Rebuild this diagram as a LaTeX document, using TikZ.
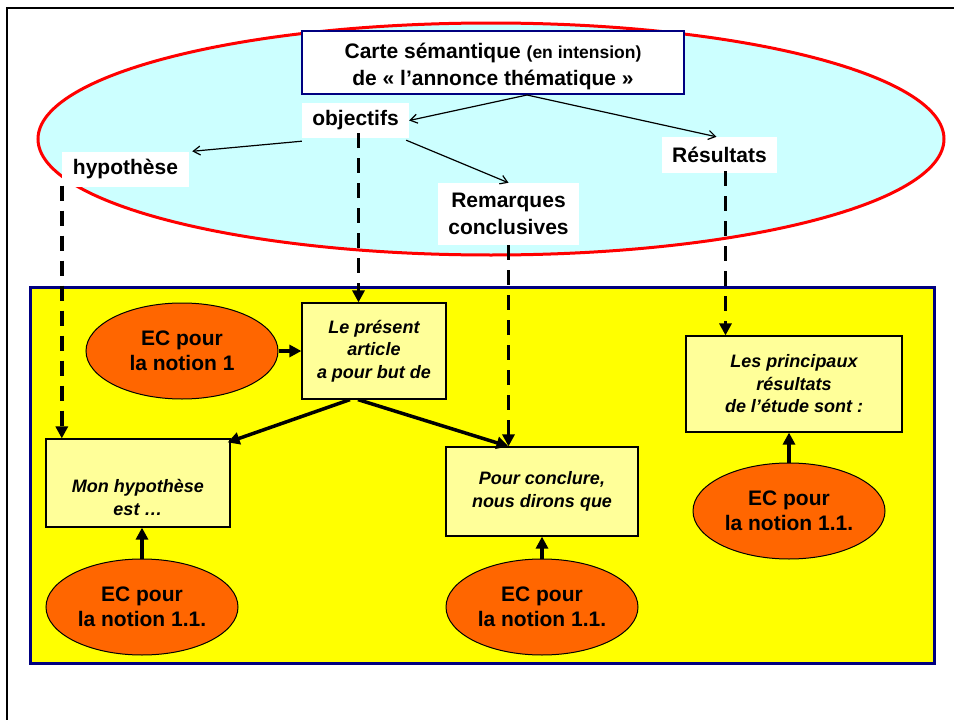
\documentclass[tikz,border=0pt]{standalone}
\usepackage{fontspec}
\setmainfont{Liberation Sans}
\usetikzlibrary{arrows.meta,shapes.geometric}
\definecolor{skyfill}{HTML}{CCFFFF}
\definecolor{navy}{HTML}{000080}
\definecolor{lemon}{HTML}{FFFF00}
\definecolor{cream}{HTML}{FFFF99}
\definecolor{ecorange}{HTML}{FF6600}

\begin{document}
\begin{tikzpicture}[x=1pt,y=-1pt,
  tag/.style={fill=white, inner sep=0, font=\fontsize{21}{27}\selectfont\bfseries, align=center},
  notebox/.style={draw=black, line width=1.2, fill=cream, inner sep=0,
    font=\fontsize{18}{22.5}\selectfont\bfseries\itshape, align=center},
  ecnode/.style={ellipse, draw=black, line width=1, fill=ecorange,
    minimum width=192, minimum height=96, inner sep=0,
    font=\fontsize{21}{25}\selectfont\bfseries, align=center},
  maplink/.style={line width=1.2, -{Straight Barb[length=7pt,width=9pt]}},
  heavy/.style={line width=3.5, -{Triangle[length=12pt,width=12pt]}},
  guide/.style={line width=3.5, dash pattern=on 15pt off 10pt, -{Triangle[length=12pt,width=12pt]}},
]
\useasboundingbox (0,0) rectangle (954,720);

% page frame
\draw[line width=2.5] (954,8) -- (7,8) -- (7,720);

% semantic map (upper part)
\draw[line width=3, draw=red, fill=skyfill] (491,139) ellipse [x radius=453, y radius=116];

\node[draw=navy, line width=2, fill=white, minimum width=382, minimum height=63, inner sep=0,
  font=\fontsize{21}{27}\selectfont\bfseries, align=center] (title) at (493,62.5)
  {\mbox{}\\[-4pt]Carte sémantique {\fontsize{17.5}{27}\selectfont(en intension)}\\de «~l’annonce thématique~»};

\node[tag, minimum width=107, minimum height=35] (obj) at (355.5,120.5) {objectifs};
\node[tag, minimum width=127, minimum height=35] (hyp) at (125.5,169) {hypothèse};
\node[tag, minimum width=141, minimum height=62] (rem) at (508.5,214) {Remarques\\conclusives};
\node[tag, minimum width=115, minimum height=36] (res) at (719.5,155) {Résultats};

\coordinate (fork) at ([xshift=34]title.south);
\draw[maplink] (fork) -- (obj.east);
\draw[maplink] (fork) -- ([xshift=-3]res.north);
\draw[maplink] ([yshift=-3]obj.south west) -- ([xshift=3]hyp.north east);
\draw[maplink] ([xshift=-3,yshift=-2]obj.south east) -- (rem.north);

% writing frame (lower part)
\draw[line width=3, draw=navy, fill=lemon] (30,287) rectangle (934,663);

\node[notebox, minimum width=144, minimum height=96] (pres) at (374,351)
  {Le présent\\article\\a pour but de};
\node[notebox, minimum width=184, minimum height=88] (monhyp) at (138,483)
  {\mbox{}\\[20pt]Mon hypothèse\\est …};
\node[notebox, minimum width=192, minimum height=89] (concl) at (542,491.5)
  {Pour conclure,\\nous dirons que};
\node[notebox, minimum width=216, minimum height=96] (lp) at (794,384)
  {Les principaux\\résultats\\de l’étude sont :};

\node[ecnode] (ec1) at (182,351) {EC pour\\la notion 1};
\node[ecnode] (ec2) at (142,607) {EC pour\\la notion 1.1.};
\node[ecnode] (ec3) at (542,607) {EC pour\\la notion 1.1.};
\node[ecnode] (ec4) at (789,511) {EC pour\\la notion 1.1.};

% dashed guides from the map to the writing frame
\draw[guide] ([yshift=1]hyp.south west) -- (hyp.south west |- monhyp.north);
\draw[guide] ([xshift=3,yshift=5]obj.south) -- ([xshift=3]obj.south |- pres.north);
\draw[guide] (rem.south) -- (rem.south |- concl.north);
\draw[guide] ([xshift=6,yshift=2]res.south) -- ([xshift=6]res.south |- lp.north);

% solid links inside the writing frame
\draw[heavy] (ec1.east) -- (pres.west);
\draw[heavy] ([xshift=-24]pres.south) -- ([shift={(-3,4)}]monhyp.north east);
\draw[heavy] ([xshift=-16]pres.south) -- (rem.south |- concl.north);
\draw[heavy] (ec2.north) -- (ec2.north |- monhyp.south);
\draw[heavy] (ec3.north) -- (concl.south);
\draw[heavy] (ec4.north) -- (ec4.north |- lp.south);
\end{tikzpicture}
\end{document}
